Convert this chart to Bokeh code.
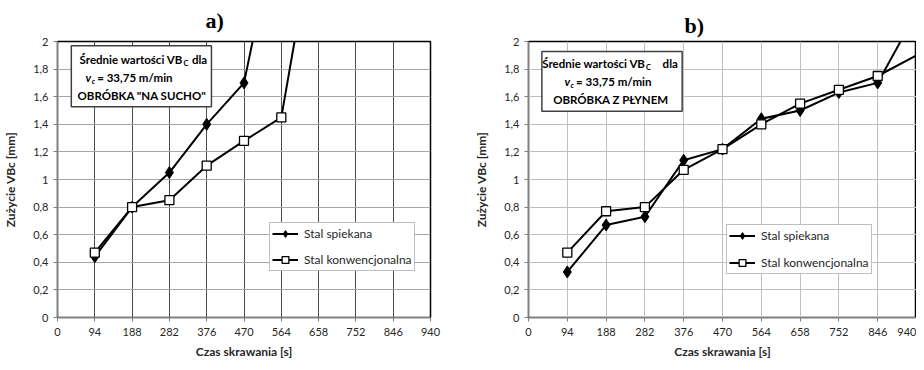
from bokeh.plotting import figure
from bokeh.models import FixedTicker, Label, BoxAnnotation, Legend, LegendItem, Range1d, Title
from bokeh.layouts import row
from bokeh.embed import file_html
from bokeh.resources import INLINE

# ---- data ----
x_ticks = [0, 94, 188, 282, 376, 470, 564, 658, 752, 846, 940]
y_ticks = [0, 0.2, 0.4, 0.6, 0.8, 1, 1.2, 1.4, 1.6, 1.8, 2]
y_tick_labels = ["0", "0,2", "0,4", "0,6", "0,8", "1", "1,2", "1,4", "1,6", "1,8", "2"]

a_czas_spiek = [94, 188, 282, 376, 470, 564]
a_spiek = [0.44, 0.80, 1.05, 1.40, 1.70, 3.00]
a_czas_konw = [94, 188, 282, 376, 470, 564, 658]
a_konw = [0.47, 0.80, 0.85, 1.10, 1.28, 1.45, 3.00]

b_czas = [94, 188, 282, 376, 470, 564, 658, 752, 846, 940]
b_spiek = [0.33, 0.67, 0.73, 1.14, 1.22, 1.44, 1.50, 1.63, 1.70, 2.21]
b_konw = [0.47, 0.77, 0.80, 1.07, 1.22, 1.40, 1.55, 1.65, 1.75, 1.90]

series_labels = ["Stal spiekana", "Stal konwencjonalna"]

FONT = "Lato"
SERIF = "Liberation Serif"


def make_fig(width, mb_right, vgrid, hgrid, title_text, title_offset, title_standoff):
    p = figure(width=width, height=362, x_range=Range1d(0, 940), y_range=Range1d(0, 2),
               output_backend="svg", toolbar_location=None,
               min_border_left=51, min_border_right=mb_right,
               min_border_top=41, min_border_bottom=45)
    p.title = Title(text=title_text, align="left", offset=title_offset,
                    vertical_align="top", standoff=title_standoff,
                    text_font=SERIF, text_font_style="bold", text_font_size="22px",
                    text_color="black")
    p.xaxis.ticker = FixedTicker(ticks=x_ticks)
    p.yaxis.ticker = FixedTicker(ticks=y_ticks)
    p.yaxis.major_label_overrides = {t: l for t, l in zip(y_ticks, y_tick_labels)}
    for ax in (p.xaxis, p.yaxis):
        ax.major_tick_out = 4
        ax.major_tick_in = 0
        ax.minor_tick_line_color = None
        ax.major_tick_line_color = "#808080"
        ax.axis_line_color = "#808080"
        ax.major_label_text_font = FONT
        ax.major_label_text_font_size = "11px"
        ax.major_label_text_color = "#262626"
        ax.axis_label_text_font = FONT
        ax.axis_label_text_font_size = "12px"
        ax.axis_label_text_font_style = "bold"
        ax.axis_label_text_color = "#262626"
    p.xaxis.major_label_standoff = 6
    p.yaxis.major_label_standoff = 5
    p.xaxis.axis_label = "Czas skrawania [s]"
    p.xaxis.axis_label_standoff = 5
    p.yaxis.axis_label = "Zużycie VBc [mm]"
    p.yaxis.axis_label_standoff = 12
    p.xgrid.grid_line_color = vgrid
    p.ygrid.grid_line_color = hgrid
    p.outline_line_color = "black"
    p.outline_line_width = 1.5
    p.background_fill_color = "white"
    p.border_fill_color = "white"
    return p


def add_series(p, xs, ys, xm, ym, xs2, ys2, xm2, ym2, loc, spacing):
    l1 = p.line(xs, ys, line_color="black", line_width=2)
    s1 = p.scatter(xm, ym, marker="diamond", size=12, fill_color="black", line_color="black")
    l2 = p.line(xs2, ys2, line_color="black", line_width=2)
    s2 = p.scatter(xm2, ym2, marker="square", size=9, fill_color="white", line_color="black",
                   line_width=1.3)
    leg = Legend(items=[LegendItem(label=series_labels[0], renderers=[l1, s1]),
                        LegendItem(label=series_labels[1], renderers=[l2, s2])],
                 location=loc, border_line_color="#808080", border_line_width=1,
                 label_text_font=FONT, label_text_font_size="12px", label_text_color="#262626",
                 glyph_width=26, glyph_height=17, label_height=17, spacing=spacing,
                 padding=2, margin=0, label_standoff=6, background_fill_alpha=1)
    p.add_layout(leg)


def add_box(p, left, right, top, bottom, l1y, anchor1, dla_off, l2y, anchor2, l3x, l3y, l3text):
    p.add_layout(BoxAnnotation(left=left, right=right, top=top, bottom=bottom,
                               fill_color="white", fill_alpha=1, line_color="#404040",
                               line_width=1.5, line_alpha=1))
    common = dict(text_font=FONT, text_font_style="bold", text_baseline="middle",
                  text_color="black")
    fs = "11.5px"
    p.add_layout(Label(x=anchor1, y=l1y, text="Średnie wartości VB", text_align="right",
                       text_font_size=fs, **common))
    p.add_layout(Label(x=anchor1, y=l1y, x_offset=0.5, y_offset=-4, text="C", text_align="left",
                       text_font_size="7.5px", **common))
    p.add_layout(Label(x=anchor1, y=l1y, x_offset=dla_off, text="dla", text_align="left",
                       text_font_size=fs, **common))
    c2 = dict(common)
    c2["text_font_style"] = "bold italic"
    p.add_layout(Label(x=anchor2, y=l2y, text="v", text_align="right",
                       text_font_size=fs, **c2))
    p.add_layout(Label(x=anchor2, y=l2y, x_offset=0.5, y_offset=-4, text="c", text_align="left",
                       text_font_size="7.5px", **c2))
    p.add_layout(Label(x=anchor2, y=l2y, x_offset=6, text="= 33,75 m/min", text_align="left",
                       text_font_size=fs, **common))
    p.add_layout(Label(x=l3x, y=l3y, text=l3text, text_align="center",
                       text_font_size=fs, **common))


# ---- left chart ----
p1 = make_fig(471, 41, "#4d4d4d", "#a6a6a6", "a)", 148, 14)
add_series(p1, a_czas_spiek, a_spiek, a_czas_spiek[:5], a_spiek[:5],
           a_czas_konw, a_konw, a_czas_konw[:6], a_konw[:6], (212, 46), 9)
add_box(p1, 34.8, 388, 1.969, 1.527, 1.872, 316, 9, 1.739, 85, 213, 1.606,
        'OBRÓBKA "NA SUCHO"')

# ---- right chart ----
p2 = make_fig(445, 0, "#bfbfbf", "#bfbfbf", "b)", 156, 4)
add_series(p2, b_czas, b_spiek, b_czas[:9], b_spiek[:9],
           b_czas, b_konw, b_czas[:9], b_konw[:9], (198, 43), 10)
add_box(p2, 32.4, 372.3, 1.928, 1.494, 1.838, 283.7, 17, 1.711, 100.8, 199.5, 1.581,
        "OBRÓBKA Z PŁYNEM")

layout = row(p1, p2)
open("out.html", "w").write(file_html(layout, INLINE))
